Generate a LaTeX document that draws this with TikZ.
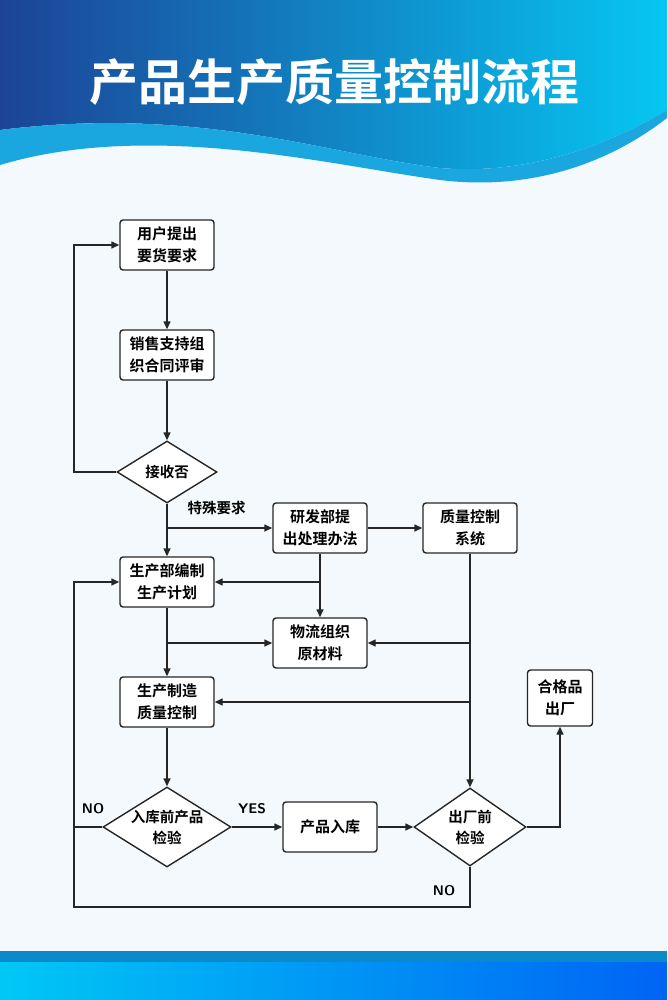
\documentclass[tikz,border=0pt]{standalone}
\usepackage{fontspec}
\newfontfamily\cjk[BoldFont={Noto Sans CJK SC Bold}]{Noto Sans CJK SC}
\usetikzlibrary{shapes.geometric,arrows.meta}
\definecolor{dkb}{HTML}{1C4396}
\definecolor{cyb}{HTML}{06C6F2}
\definecolor{lb}{HTML}{1AA6DF}
\definecolor{bg}{HTML}{F3F9FD}
\definecolor{fb}{HTML}{0A8ACB}
\definecolor{fc}{HTML}{00C8F5}
\definecolor{fr}{HTML}{0064F5}
\tikzset{
 box/.style={draw=black!85,line width=1.4pt,rounded corners=3pt,fill=white,minimum width=94pt,minimum height=50pt,align=center,font=\cjk\bfseries\fontsize{15}{22}\selectfont,inner sep=0pt},
 dia/.style={draw=black!85,line width=1.4pt,diamond,aspect=1.6,fill=white,align=center,font=\cjk\bfseries\fontsize{14.5}{21}\selectfont,inner sep=0pt},
 ln/.style={line width=1.4pt,draw=black!85},
 ar/.style={ln,-{Triangle[length=8pt,width=7pt]}},
 lab/.style={font=\cjk\bfseries\fontsize{14.5}{16}\selectfont},
 en/.style={font=\sffamily\bfseries\fontsize{14}{16}\selectfont},
}
\begin{document}
\begin{tikzpicture}[x=1pt,y=-1pt]
\useasboundingbox (0,0) rectangle (667,1000);
\fill[bg] (0,0) rectangle (667,1000);
\shade[left color=dkb,right color=cyb] (0,0) -- (667,0) -- (667,110) .. controls (600,150) and (520,175) .. (440,168) .. controls (330,155) and (200,105) .. (0,130) -- cycle;
\fill[lb] (0,130) .. controls (200,105) and (330,155) .. (440,168) .. controls (520,175) and (600,150) .. (667,110) -- (667,118) .. controls (600,170) and (520,190) .. (440,180) .. controls (330,165) and (150,120) .. (0,165) -- cycle;
\node[text=white,font=\cjk\bfseries\fontsize{49}{52}\selectfont] (title) at (334,82) {产品生产质量控制流程};
\fill[fb] (0,951) rectangle (667,962);
\shade[left color=fc,right color=fr] (0,962) rectangle (667,1000);

\node[box] (n1) at (167,245) {用户提出\\要货要求};
\node[box] (n2) at (167,355) {销售支持组\\织合同评审};
\node[dia,minimum width=100pt,minimum height=62pt] (d1) at (167,472) {接收否};
\node[box] (n3) at (320,528) {研发部提\\出处理办法};
\node[box] (n4) at (470,528) {质量控制\\系统};
\node[box] (n5) at (167,582) {生产部编制\\生产计划};
\node[box] (n6) at (320,643) {物流组织\\原材料};
\node[box] (n7) at (167,702) {生产制造\\质量控制};
\node[dia,minimum width=114pt,minimum height=72pt] (d2) at (167,827) {入库前产品\\检验};
\node[box] (n8) at (330,827) {产品入库};
\node[dia,minimum width=112pt,minimum height=78pt] (d3) at (470,827) {出厂前\\检验};
\node[box,minimum width=65pt,minimum height=56pt] (n9) at (560,698) {合格品\\出厂};

\coordinate (b1) at (167,528);
\coordinate (b2) at (320,582);
\coordinate (b3) at (167,643);
\coordinate (b4) at (470,643);
\coordinate (b5) at (470,702);
\draw[ar] (n1) -- (n2);
\draw[ar] (n2) -- (d1);
\draw[ar] (d1.west) -| (74,245) -- (n1.west);
\draw[ar] (d1.south) -- (n5.north);
\draw[ar] (b1) -- (n3.west);
\node[lab,anchor=west] (t1) at (184,508) {特殊要求};
\draw[ar] (n3) -- (n4);
\draw[ar] (n3.south) -- (n6.north);
\draw[ar] (b2) -- (n5.east);
\draw[ar] (n4.south) -- (d3.north);
\draw[ar] (b4) -- (n6.east);
\draw[ar] (b5) -- (n7.east);
\draw[ar] (n5.south) -- (n7.north);
\draw[ar] (b3) -- (n6.west);
\draw[ar] (n7) -- (d2);
\draw[ar] (d2) -- (n8);
\draw[ar] (n8) -- (d3);
\draw[ar] (d3.east) -| (n9.south);
\draw[ar] (d3.south) |- (74,907) -- (74,582) -- (n5.west);
\draw[ln] (d2.west) -- (74,827);
\node[en] (yes) at (252,809) {YES};
\node[en] (no1) at (93,809) {NO};
\node[en] (no2) at (444,891) {NO};
\end{tikzpicture}
\end{document}
